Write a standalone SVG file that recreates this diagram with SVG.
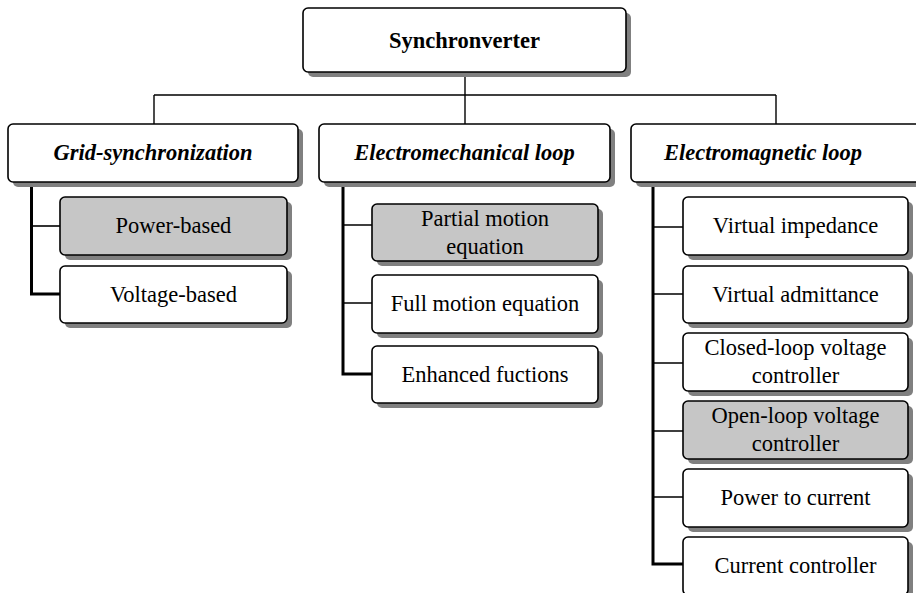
<svg xmlns="http://www.w3.org/2000/svg" width="916" height="593" viewBox="0 0 916 593">
  <style>
    .bg { fill: #ffffff; }
    .shadow { fill: #808080; }
    .box { fill: #ffffff; stroke: #000000; stroke-width: 1.6; }
    .box.hl { fill: #c6c6c6; }
    .t { font-family: "Liberation Serif", "Times New Roman", serif; font-size: 22.5px; fill: #000000; text-anchor: middle; }
    .title { font-weight: bold; }
    .head { font-weight: bold; font-style: italic; }
    .thin { stroke: #000000; stroke-width: 1.4; fill: none; }
    .trunk { stroke: #000000; stroke-width: 3; fill: none; }
    .branch { stroke: #000000; stroke-width: 1.6; fill: none; }
  </style>
  <rect class="bg" x="0" y="0" width="916" height="593"/>

  <!-- connectors -->
  <g id="connectors">
    <path class="thin" d="M465 72 V124 M154 95 H776 M154 95 V124 M776 95 V124"/>
    <path class="trunk" d="M31.5 182 V294 H60"/>
    <path class="branch" d="M31.5 226 H60"/>
    <path class="trunk" d="M343 182 V374 H372"/>
    <path class="branch" d="M343 225 H372 M343 303 H372"/>
    <path class="trunk" d="M653 182 V564 H683"/>
    <path class="branch" d="M653 227 H683 M653 294 H683 M653 363 H683 M653 431 H683 M653 497 H683"/>
  </g>

  <!-- root -->
  <g id="synchronverter">
    <rect class="shadow" x="308" y="13" width="323" height="64" rx="5"/>
    <rect class="box" x="303" y="8" width="323" height="64" rx="5"/>
    <text class="t title" x="464.5" y="47.5">Synchronverter</text>
  </g>

  <!-- first level -->
  <g id="grid-synchronization">
    <rect class="shadow" x="13" y="129" width="290" height="58" rx="5"/>
    <rect class="box" x="8" y="124" width="290" height="58" rx="5"/>
    <text class="t head" x="153" y="159.5">Grid-synchronization</text>
  </g>
  <g id="electromechanical-loop">
    <rect class="shadow" x="324" y="129" width="291" height="58" rx="5"/>
    <rect class="box" x="319" y="124" width="291" height="58" rx="5"/>
    <text class="t head" x="464.5" y="159.5">Electromechanical loop</text>
  </g>
  <g id="electromagnetic-loop">
    <rect class="shadow" x="636" y="129" width="300" height="58" rx="5"/>
    <rect class="box" x="631" y="124" width="300" height="58" rx="5"/>
    <text class="t head" x="763" y="159.5">Electromagnetic loop</text>
  </g>

  <!-- grid-synchronization children -->
  <g id="power-based">
    <rect class="shadow" x="65" y="202" width="227" height="58" rx="5"/>
    <rect class="box hl" x="60" y="197" width="227" height="58" rx="5"/>
    <text class="t" x="173.5" y="233">Power-based</text>
  </g>
  <g id="voltage-based">
    <rect class="shadow" x="65" y="271" width="227" height="57" rx="5"/>
    <rect class="box" x="60" y="266" width="227" height="57" rx="5"/>
    <text class="t" x="173.5" y="301.5">Voltage-based</text>
  </g>

  <!-- electromechanical loop children -->
  <g id="partial-motion-equation">
    <rect class="shadow" x="377" y="209" width="226" height="57" rx="5"/>
    <rect class="box hl" x="372" y="204" width="226" height="57" rx="5"/>
    <text class="t" x="485" y="225.5">Partial motion</text>
    <text class="t" x="485" y="253.5">equation</text>
  </g>
  <g id="full-motion-equation">
    <rect class="shadow" x="377" y="280" width="226" height="58" rx="5"/>
    <rect class="box" x="372" y="275" width="226" height="58" rx="5"/>
    <text class="t" x="485" y="311">Full motion equation</text>
  </g>
  <g id="enhanced-fuctions">
    <rect class="shadow" x="377" y="351" width="226" height="57" rx="5"/>
    <rect class="box" x="372" y="346" width="226" height="57" rx="5"/>
    <text class="t" x="485" y="381.5">Enhanced fuctions</text>
  </g>

  <!-- electromagnetic loop children -->
  <g id="virtual-impedance">
    <rect class="shadow" x="688" y="202" width="225" height="58" rx="5"/>
    <rect class="box" x="683" y="197" width="225" height="58" rx="5"/>
    <text class="t" x="795.5" y="233">Virtual impedance</text>
  </g>
  <g id="virtual-admittance">
    <rect class="shadow" x="688" y="271" width="225" height="57" rx="5"/>
    <rect class="box" x="683" y="266" width="225" height="57" rx="5"/>
    <text class="t" x="795.5" y="301.5">Virtual admittance</text>
  </g>
  <g id="closed-loop-voltage-controller">
    <rect class="shadow" x="688" y="338" width="225" height="58" rx="5"/>
    <rect class="box" x="683" y="333" width="225" height="58" rx="5"/>
    <text class="t" x="795.5" y="355">Closed-loop voltage</text>
    <text class="t" x="795.5" y="383">controller</text>
  </g>
  <g id="open-loop-voltage-controller">
    <rect class="shadow" x="688" y="406" width="225" height="58" rx="5"/>
    <rect class="box hl" x="683" y="401" width="225" height="58" rx="5"/>
    <text class="t" x="795.5" y="423">Open-loop voltage</text>
    <text class="t" x="795.5" y="451">controller</text>
  </g>
  <g id="power-to-current">
    <rect class="shadow" x="688" y="474" width="225" height="58" rx="5"/>
    <rect class="box" x="683" y="469" width="225" height="58" rx="5"/>
    <text class="t" x="795.5" y="505">Power to current</text>
  </g>
  <g id="current-controller">
    <rect class="shadow" x="688" y="542" width="225" height="58" rx="5"/>
    <rect class="box" x="683" y="537" width="225" height="58" rx="5"/>
    <text class="t" x="795.5" y="573">Current controller</text>
  </g>
</svg>
